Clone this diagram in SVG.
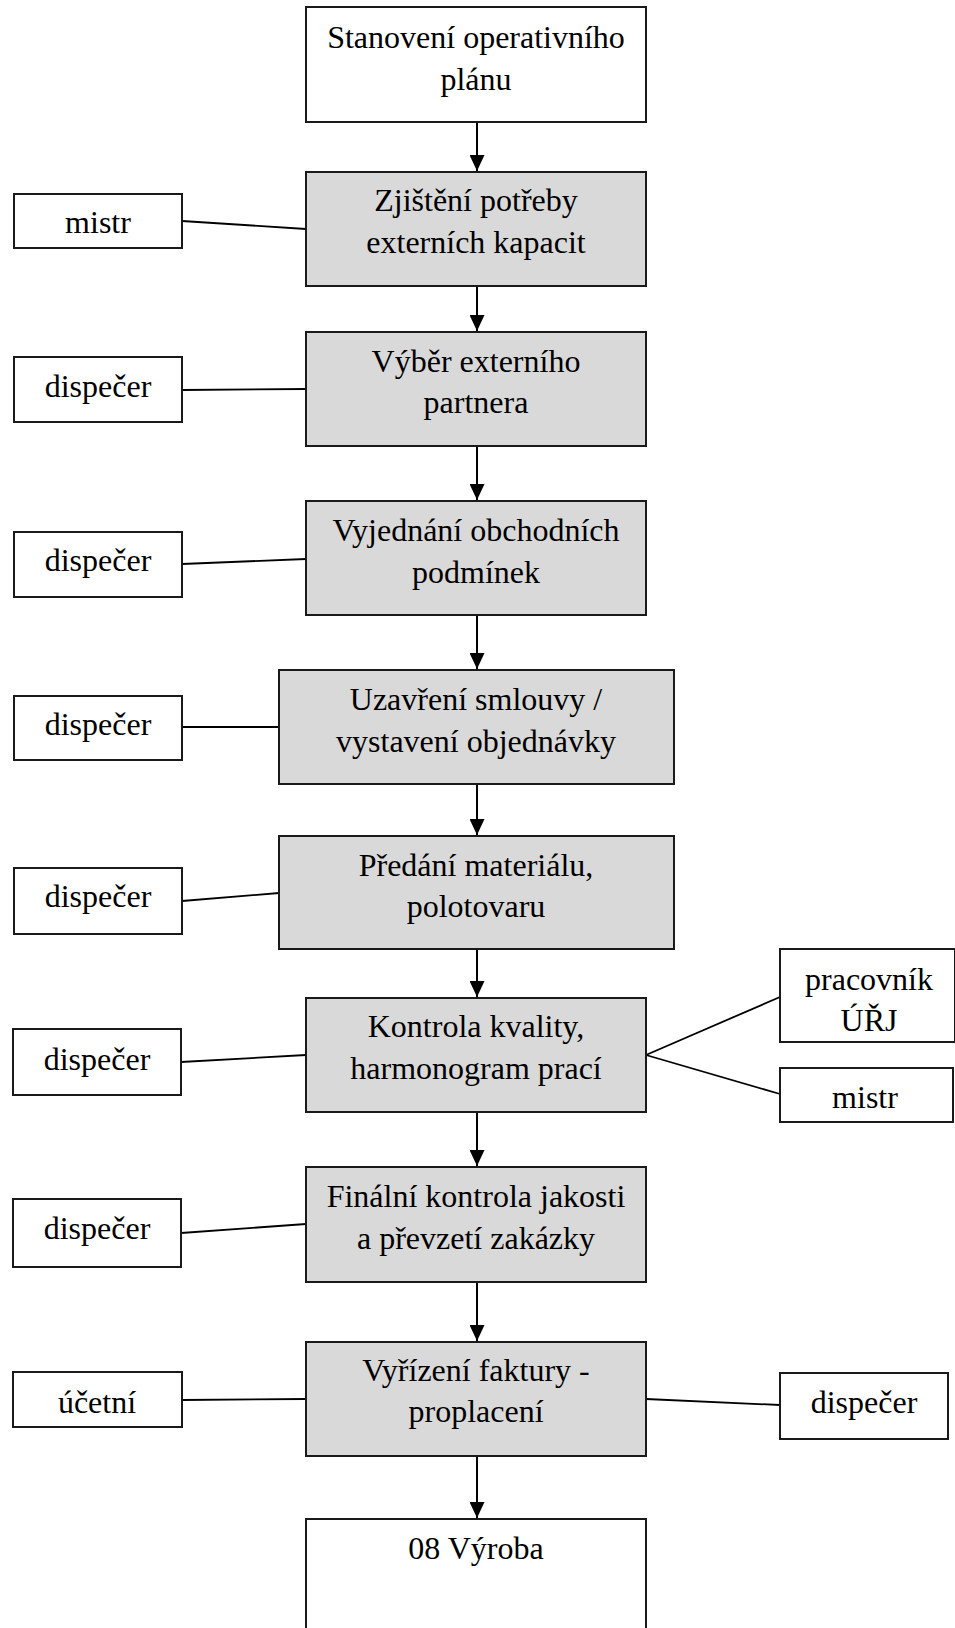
<svg xmlns="http://www.w3.org/2000/svg" width="955" height="1628" viewBox="0 0 955 1628">
<style>
.box{stroke:#1a1a1a;stroke-width:2;}
.w{fill:#ffffff;}
.g{fill:#d9d9d9;}
text{font-family:"Liberation Serif","Times New Roman",serif;font-size:32px;fill:#000;text-anchor:middle;}
.ln{stroke:#000;stroke-width:1.8;fill:none;}
.ar{stroke:#000;stroke-width:2;fill:none;marker-end:url(#ah);}
</style>
<defs>
<marker id="ah" markerUnits="userSpaceOnUse" markerWidth="16" markerHeight="15" viewBox="0 0 16 15" refX="16" refY="7.5" orient="auto">
<path d="M0,0 L16,7.5 L0,15 Z" fill="#000"/>
</marker>
</defs>
<rect width="955" height="1628" fill="#ffffff"/>
<g id="connectors">
<line class="ar" x1="477" y1="122" x2="477" y2="171"/>
<line class="ar" x1="477" y1="286" x2="477" y2="331"/>
<line class="ar" x1="477" y1="446" x2="477" y2="500"/>
<line class="ar" x1="477" y1="615" x2="477" y2="669"/>
<line class="ar" x1="477" y1="784" x2="477" y2="835"/>
<line class="ar" x1="477" y1="949" x2="477" y2="997"/>
<line class="ar" x1="477" y1="1112" x2="477" y2="1166"/>
<line class="ar" x1="477" y1="1282" x2="477" y2="1341"/>
<line class="ar" x1="477" y1="1456" x2="477" y2="1518"/>
<line class="ln" x1="182" y1="221" x2="306" y2="229"/>
<line class="ln" x1="182" y1="390" x2="306" y2="389"/>
<line class="ln" x1="182" y1="564" x2="306" y2="559"/>
<line class="ln" x1="182" y1="727" x2="279" y2="727"/>
<line class="ln" x1="182" y1="901" x2="279" y2="893"/>
<line class="ln" x1="181" y1="1062" x2="306" y2="1055"/>
<line class="ln" x1="181" y1="1233" x2="306" y2="1224"/>
<line class="ln" x1="182" y1="1400" x2="306" y2="1399"/>
<line class="ln" x1="646" y1="1399" x2="780" y2="1405"/>
<line class="ln" x1="646" y1="1055" x2="780" y2="997"/>
<line class="ln" x1="646" y1="1055" x2="780" y2="1094"/>
</g>
<g id="n1"><rect class="box w" x="306" y="7" width="340" height="115"/><text x="476" y="48">Stanovení operativního</text><text x="476" y="90">plánu</text></g>
<g id="n2"><rect class="box g" x="306" y="172" width="340" height="114"/><text x="476" y="211">Zjištění potřeby</text><text x="476" y="253">externích kapacit</text></g>
<g id="n3"><rect class="box g" x="306" y="332" width="340" height="114"/><text x="476" y="372">Výběr externího</text><text x="476" y="413">partnera</text></g>
<g id="n4"><rect class="box g" x="306" y="501" width="340" height="114"/><text x="476" y="541">Vyjednání obchodních</text><text x="476" y="583">podmínek</text></g>
<g id="n5"><rect class="box g" x="279" y="670" width="395" height="114"/><text x="476" y="710">Uzavření smlouvy /</text><text x="476" y="752">vystavení objednávky</text></g>
<g id="n6"><rect class="box g" x="279" y="836" width="395" height="113"/><text x="476" y="876">Předání materiálu,</text><text x="476" y="917">polotovaru</text></g>
<g id="n7"><rect class="box g" x="306" y="998" width="340" height="114"/><text x="476" y="1037">Kontrola kvality,</text><text x="476" y="1079">harmonogram prací</text></g>
<g id="n8"><rect class="box g" x="306" y="1167" width="340" height="115"/><text x="476" y="1207">Finální kontrola jakosti</text><text x="476" y="1249">a převzetí zakázky</text></g>
<g id="n9"><rect class="box g" x="306" y="1342" width="340" height="114"/><text x="476" y="1381">Vyřízení faktury -</text><text x="476" y="1422">proplacení</text></g>
<g id="n10"><rect class="box w" x="306" y="1519" width="340" height="130"/><text x="476" y="1559">08 Výroba</text></g>
<g id="s2"><rect class="box w" x="14" y="194" width="168" height="54"/><text x="98" y="233">mistr</text></g>
<g id="s3"><rect class="box w" x="14" y="357" width="168" height="65"/><text x="98" y="397">dispečer</text></g>
<g id="s4"><rect class="box w" x="14" y="532" width="168" height="65"/><text x="98" y="571">dispečer</text></g>
<g id="s5"><rect class="box w" x="14" y="696" width="168" height="64"/><text x="98" y="735">dispečer</text></g>
<g id="s6"><rect class="box w" x="14" y="868" width="168" height="66"/><text x="98" y="907">dispečer</text></g>
<g id="s7"><rect class="box w" x="13" y="1029" width="168" height="66"/><text x="97" y="1070">dispečer</text></g>
<g id="s8"><rect class="box w" x="13" y="1199" width="168" height="68"/><text x="97" y="1239">dispečer</text></g>
<g id="s9"><rect class="box w" x="13" y="1372" width="169" height="55"/><text x="97" y="1413">účetní</text></g>
<g id="s9r"><rect class="box w" x="780" y="1373" width="168" height="66"/><text x="864" y="1413">dispečer</text></g>
<g id="s7r1"><rect class="box w" x="780" y="949" width="175" height="93"/><text x="869" y="990">pracovník</text><text x="869" y="1031">ÚŘJ</text></g>
<g id="s7r2"><rect class="box w" x="780" y="1068" width="173" height="54"/><text x="865" y="1108">mistr</text></g>
</svg>
